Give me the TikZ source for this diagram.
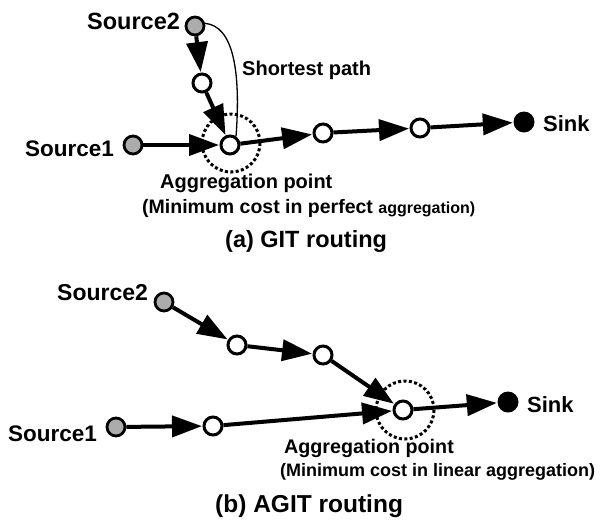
\documentclass[tikz,border=0pt]{standalone}
\usepackage{fontspec}
\setmainfont{Liberation Sans}
\usetikzlibrary{arrows.meta}
\tikzset{
  src/.style={circle, draw=black, line width=2.8pt, fill=gray!65, minimum size=18pt, inner sep=0pt},
  wnode/.style={circle, draw=black, line width=3pt, fill=white, minimum size=18pt, inner sep=0pt},
  snk/.style={circle, fill=black, minimum size=21pt, inner sep=0pt},
  arr/.style={line width=4pt, -{Triangle[length=30pt,width=21pt]}, shorten >=0.5pt},
  ring/.style={draw=black, line width=3pt, dash pattern=on 3pt off 2.4pt},
  lbl/.style={anchor=west, inner sep=0pt, font=\bfseries},
  thinpath/.style={line width=1.3pt}
}
\newcommand{\fs}[1]{\fontsize{#1}{#1}\selectfont}
\begin{document}
\begin{tikzpicture}[x=1pt,y=-1pt]
\useasboundingbox (0,0) rectangle (603,523);
% ---------- (a) GIT routing ----------
\coordinate (ra) at (231,143);
\draw[ring] (ra) circle (29);
\node[src] (as2) at (195,26) {};
\node[wnode] (an1) at (202,83) {};
\node[wnode] (aag) at (230,145) {};
\node[src] (as1) at (133,145) {};
\node[wnode] (an3) at (323,133) {};
\node[wnode] (an4) at (420,128) {};
\node[snk] (ask) at (524,122) {};
\draw[arr] (as2) -- (an1);
\draw[arr] (an1) -- (aag);
\draw[arr] (as1) -- (aag);
\draw[arr] (aag) -- (an3);
\draw[arr] (an3) -- (an4);
\draw[arr] (an4) -- (ask);
\draw[thinpath] (as2.15) .. controls (233,26) and (241,70) .. (aag.55);
\node[lbl] (tas2) at (87,21) {\fs{23.5}Source2};
\node[lbl] (tas1) at (25,149) {\fs{22.5}Source1};
\node[lbl] (tsp) at (242,70) {\fs{20}Shortest path};
\node[lbl] (task) at (543,124) {\fs{22}Sink};
\node[lbl] (tagg) at (160,183) {\fs{20}Aggregation point};
\node[lbl] (tmin) at (142,208) {\fs{19.5}(Minimum cost in perfect {\fs{16}aggregation)}};
\node[lbl] (tcap) at (225,241) {\fs{23.5}(a) GIT routing};
% ---------- (b) AGIT routing ----------
\coordinate (rb) at (405,410);
\draw[ring] (rb) circle (29);
\node[src] (bs2) at (164,302) {};
\node[wnode] (bn1) at (237,345) {};
\node[wnode] (bn2) at (323,355) {};
\node[wnode] (bag) at (403,410) {};
\node[src] (bs1) at (116,427) {};
\node[wnode] (bn3) at (213,426) {};
\node[snk] (bsk) at (508,402) {};
\draw[arr] (bs2) -- (bn1);
\draw[arr] (bn1) -- (bn2);
\draw[arr] (bn2) -- (bag);
\draw[arr] (bs1) -- (bn3);
\draw[arr] (bn3) -- (bag);
\draw[arr] (bag) -- (bsk);
\node[lbl] (tbs2) at (57,293) {\fs{23}Source2};
\node[lbl] (tbs1) at (8,434) {\fs{22.5}Source1};
\node[lbl] (tbsk) at (527,405) {\fs{22}Sink};
\node[lbl] (tbagg) at (284,448) {\fs{19.7}Aggregation point};
\node[lbl] (tbmin) at (280,472) {\fs{18}(Minimum cost in linear aggregation)};
\node[lbl] (tbcap) at (215,506) {\fs{24.5}(b) AGIT routing};
\end{tikzpicture}
\end{document}
